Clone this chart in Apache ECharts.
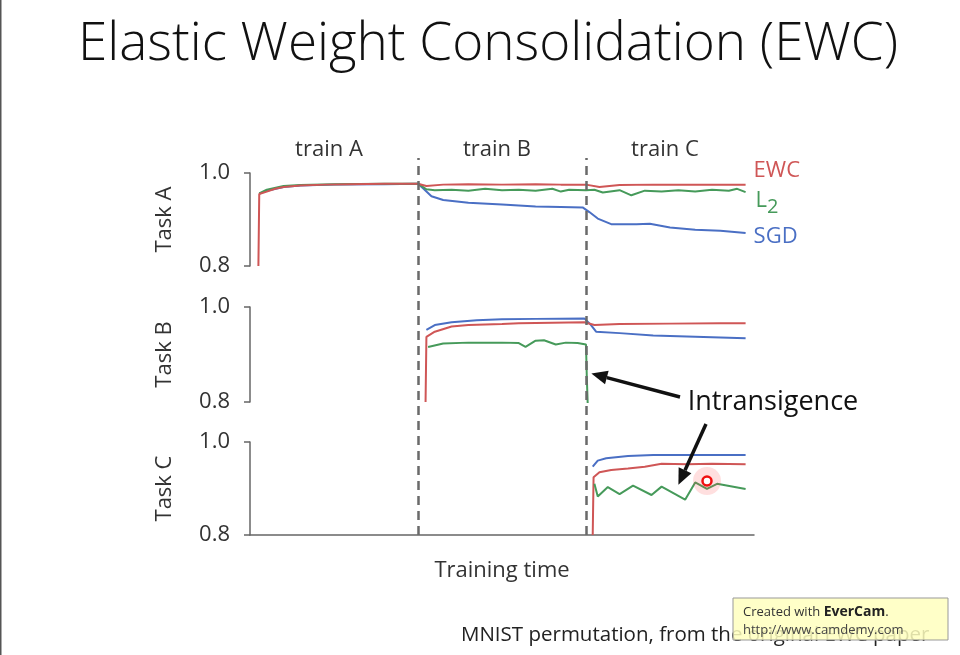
<!DOCTYPE html>
<html><head><meta charset="utf-8">
<script src="https://cdn.jsdelivr.net/npm/echarts@6/dist/echarts.min.js"></script>
<style>html,body{margin:0;padding:0;background:#fff}#c{width:960px;height:655px}</style>
</head><body><div id="c"></div>
<script>
// ---- data (time in training-phase units, value = accuracy) ----
const phaseBounds = [1, 2];
const phaseLabels = ['train A', 'train B', 'train C'];
const taskNames = ['Task A', 'Task B', 'Task C'];
const yTicks = [0.8, 1.0];

const ewcA = [[0.05,0.80],[0.055,0.955],[0.1,0.960],[0.15,0.966],[0.2,0.970],[0.3,0.973],[0.45,0.975],[0.6,0.976],[0.8,0.977],[1.0,0.977],[1.05,0.972],[1.15,0.975],[1.3,0.976],[1.5,0.975],[1.7,0.976],[1.85,0.975],[2.0,0.975],[2.08,0.970],[2.2,0.974],[2.4,0.975],[2.6,0.975],[2.8,0.975],[2.95,0.975]];
const l2A = [[0.055,0.956],[0.1,0.964],[0.2,0.972],[0.3,0.974],[0.5,0.976],[0.8,0.977],[1.0,0.977],[1.05,0.965],[1.1,0.963],[1.2,0.964],[1.3,0.962],[1.4,0.966],[1.5,0.963],[1.6,0.964],[1.7,0.962],[1.8,0.966],[1.85,0.960],[1.9,0.964],[2.0,0.963],[2.05,0.964],[2.1,0.958],[2.2,0.963],[2.27,0.952],[2.35,0.962],[2.45,0.960],[2.55,0.963],[2.65,0.960],[2.75,0.964],[2.85,0.962],[2.9,0.966],[2.95,0.959]];
const sgdA = [[0.055,0.955],[0.1,0.962],[0.2,0.970],[0.3,0.973],[0.5,0.975],[0.8,0.976],[1.0,0.977],[1.03,0.967],[1.08,0.950],[1.15,0.942],[1.3,0.936],[1.5,0.932],[1.7,0.928],[1.85,0.927],[1.98,0.926],[2.02,0.916],[2.07,0.902],[2.15,0.890],[2.3,0.890],[2.38,0.891],[2.5,0.883],[2.65,0.878],[2.8,0.876],[2.95,0.871]];

const ewcB = [[1.045,0.80],[1.05,0.937],[1.1,0.948],[1.2,0.959],[1.3,0.962],[1.5,0.964],[1.6,0.966],[1.8,0.967],[1.99,0.968],[2.05,0.962],[2.2,0.964],[2.5,0.965],[2.8,0.966],[2.95,0.966]];
const l2B = [[1.06,0.916],[1.15,0.923],[1.3,0.925],[1.5,0.925],[1.6,0.924],[1.64,0.916],[1.7,0.929],[1.75,0.930],[1.82,0.921],[1.88,0.925],[1.95,0.924],[2.0,0.921],[2.005,0.85],[2.01,0.798]];
const sgdB = [[1.05,0.952],[1.1,0.962],[1.2,0.968],[1.35,0.972],[1.5,0.974],[1.7,0.975],[1.99,0.976],[2.03,0.962],[2.06,0.948],[2.2,0.945],[2.4,0.940],[2.6,0.938],[2.8,0.936],[2.95,0.934]];

const ewcC = [[2.04,0.80],[2.045,0.924],[2.08,0.935],[2.15,0.940],[2.25,0.943],[2.35,0.947],[2.45,0.953],[2.6,0.952],[2.75,0.953],[2.95,0.952]];
const l2C = [[2.05,0.91],[2.07,0.883],[2.13,0.903],[2.2,0.888],[2.28,0.906],[2.39,0.886],[2.45,0.904],[2.59,0.876],[2.65,0.913],[2.72,0.899],[2.78,0.91],[2.95,0.899]];
const sgdC = [[2.04,0.947],[2.07,0.960],[2.12,0.965],[2.25,0.970],[2.4,0.972],[2.6,0.972],[2.95,0.972]];

// ---- styles ----
const RED = '#cf5656', GREEN = '#469a5a', BLUE = '#4a6fc4';
const FONT = 'Open Sans';
const grids = [
  {left: 250, right: 206, top: 173, height: 93},
  {left: 250, right: 206, top: 307, height: 95},
  {left: 250, right: 206, top: 442, height: 93},
  {left: 250, right: 206, top: 158, height: 377}
];
const xAxes = grids.map((g, i) => ({
  gridIndex: i, type: 'value', min: 0, max: 3,
  axisLine: {show: i === 2, onZero: false, lineStyle: {color: '#666', width: 1.5}},
  axisTick: {show: false}, axisLabel: {show: false}, splitLine: {show: false},
  name: i === 2 ? 'Training time' : '', nameLocation: 'middle', nameGap: 25,
  nameTextStyle: {fontFamily: FONT, fontSize: 22, color: '#333'}
}));
const yAxes = grids.map((g, i) => i < 3 ? ({
  gridIndex: i, type: 'value', min: 0.8, max: 1.0, interval: 0.2,
  axisLine: {show: true, lineStyle: {color: '#666', width: 1.5}},
  axisTick: {show: true, length: 6, lineStyle: {color: '#666', width: 1.5}},
  axisLabel: {fontFamily: FONT, fontSize: 22, color: '#333', margin: 20, formatter: v => v.toFixed(1)},
  splitLine: {show: false},
  name: taskNames[i], nameLocation: 'middle', nameGap: 74, nameRotate: 90,
  nameTextStyle: {fontFamily: FONT, fontSize: 22, color: '#333'}
}) : ({gridIndex: 3, type: 'value', min: 0, max: 1, show: false}));

function line(name, data, color, gi, endLbl) {
  const s = {
    name, type: 'line', xAxisIndex: gi, yAxisIndex: gi, data, showSymbol: false, symbol: 'none',
    lineStyle: {color, width: 2}, itemStyle: {color}, animation: false, silent: true
  };
  if (endLbl) s.endLabel = endLbl;
  return s;
}
const lblBase = {show: true, fontFamily: FONT, fontSize: 22};
const series = [
  line('SGD', sgdA, BLUE, 0, Object.assign({}, lblBase, {color: BLUE, offset: [0, 4], formatter: 'SGD'})),
  line('L2', l2A, GREEN, 0, Object.assign({}, lblBase, {color: GREEN, offset: [2, 9], formatter: '{a|L}{b|2}',
    rich: {a: {fontFamily: FONT, fontSize: 22, color: GREEN}, b: {fontFamily: FONT, fontSize: 20, color: GREEN, padding: [12, 0, 0, 0]}}})),
  line('EWC', ewcA, RED, 0, Object.assign({}, lblBase, {color: RED, offset: [0, -14], formatter: 'EWC'})),
  line('SGD', sgdB, BLUE, 1), line('L2', l2B, GREEN, 1), line('EWC', ewcB, RED, 1),
  line('SGD', sgdC, BLUE, 2), line('EWC', ewcC, RED, 2), line('L2', l2C, GREEN, 2),
  {
    type: 'line', xAxisIndex: 3, yAxisIndex: 3, data: [], silent: true, animation: false,
    markLine: {symbol: 'none', silent: true, label: {show: false},
      lineStyle: {color: '#6a6a6a', width: 2.5, type: [9, 6]},
      data: phaseBounds.map(b => ({xAxis: b}))}
  }
];

const chart = echarts.init(document.getElementById('c'), null, {renderer: 'canvas'});
chart.setOption({
  backgroundColor: '#fff', animation: false,
  grid: grids, xAxis: xAxes, yAxis: yAxes, series
});

// annotations that depend on axis positions
function px(gi, t, v) { return chart.convertToPixel({gridIndex: gi}, [t, v]); }
function arrow(x1, y1, x2, y2) {
  const a = Math.atan2(y2 - y1, x2 - x1), L = 16, W = 7;
  const bx = x2 - L * Math.cos(a), by = y2 - L * Math.sin(a);
  return [
    {type: 'line', shape: {x1, y1, x2: bx, y2: by}, style: {stroke: '#111', lineWidth: 3.5}, z: 50},
    {type: 'polygon', shape: {points: [[x2, y2], [bx + W * Math.sin(a), by - W * Math.cos(a)], [bx - W * Math.sin(a), by + W * Math.cos(a)]]}, style: {fill: '#111'}, z: 50}
  ];
}
const gfx = [];
gfx.push({type: 'rect', shape: {x: 0, y: 0, width: 1.5, height: 655}, style: {fill: '#555'}});
gfx.push({type: 'text', x: 488, y: 45, style: {text: 'Elastic Weight Consolidation (EWC)', font: '300 53px "Open Sans"', fill: '#111', align: 'center', verticalAlign: 'middle'}});
phaseLabels.forEach((t, i) => {
  const p = px(3, i + 0.47, 1);
  gfx.push({type: 'text', x: p[0], y: 150, style: {text: t, font: '22px "Open Sans"', fill: '#333', align: 'center', verticalAlign: 'middle'}});
});
const tipB = px(1, 2.02, 0.86);
const tipC = px(2, 2.55, 0.895);
gfx.push(...arrow(680, 397, tipB[0] + 2, tipB[1]));
gfx.push(...arrow(706, 424, tipC[0], tipC[1] - 6));
gfx.push({type: 'text', x: 773, y: 402, style: {text: 'Intransigence', font: '27px "Open Sans"', fill: '#111', align: 'center', verticalAlign: 'middle'}});
// cursor highlight from the screen capture
gfx.push({type: 'circle', shape: {cx: 707, cy: 481, r: 14}, style: {fill: 'rgba(255,80,80,0.18)'}, z: 40});
gfx.push({type: 'circle', shape: {cx: 707, cy: 481, r: 4.5}, style: {fill: '#fff', stroke: '#f01010', lineWidth: 2.5}, z: 41});
// footnote + capture watermark
gfx.push({type: 'text', x: 461, y: 635, style: {text: 'MNIST permutation, from the original EWC paper', font: '20.5px "Open Sans"', fill: '#222', verticalAlign: 'middle'}, z: 10});
gfx.push({type: 'rect', shape: {x: 733, y: 598, width: 215, height: 42}, style: {fill: 'rgba(255,255,190,0.85)', stroke: '#999', lineWidth: 1}, z: 60});
gfx.push({type: 'text', x: 743, y: 612, style: {text: '{a|Created with }{b|EverCam}{a|.}', rich: {a: {font: '13px "Open Sans"', fill: '#333'}, b: {font: 'bold 14px "Open Sans"', fill: '#222'}}, verticalAlign: 'middle'}, z: 61});
gfx.push({type: 'text', x: 743, y: 630, style: {text: 'http://www.camdemy.com', font: '13px "Open Sans"', fill: '#444', verticalAlign: 'middle'}, z: 61});
chart.setOption({graphic: gfx});
</script></body></html>
